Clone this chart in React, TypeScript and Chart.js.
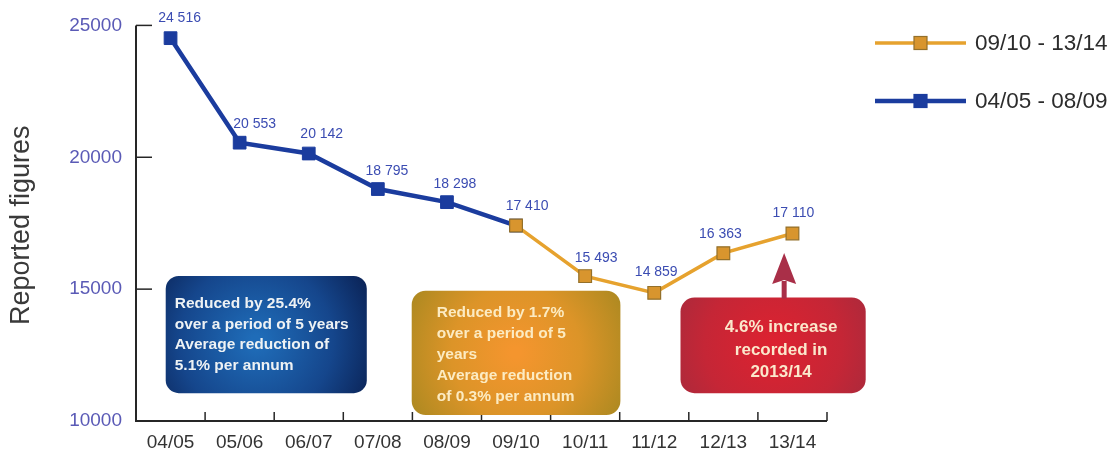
import React, { useEffect, useRef } from "react";
import { Chart, registerables } from "chart.js";

Chart.register(...registerables);

const categories = ["04/05", "05/06", "06/07", "07/08", "08/09", "09/10", "10/11", "11/12", "12/13", "13/14"];
const earlyValues = [24516, 20553, 20142, 18795, 18298, 17410, null, null, null, null];
const lateValues = [null, null, null, null, null, 17410, 15493, 14859, 16363, 17110];
const earlyLabel = "04/05 - 08/09";
const lateLabel = "09/10 - 13/14";
const yTickValues = [10000, 15000, 20000, 25000];
const yAxisTitle = "Reported figures";
const blueNote = ["Reduced by 25.4%", "over a period of 5 years", "Average reduction of", "5.1% per annum"];
const goldNote = ["Reduced by 1.7%", "over a period of 5", "years", "Average reduction", "of 0.3% per annum"];
const redNote = ["4.6% increase", "recorded in", "2013/14"];

const FONT = '"Liberation Sans", Arial, Helvetica, sans-serif';
const BLUE = "#1b3c9e";
const ORANGE = "#e6a22e";
const ORANGE_FILL = "#d8952e";
const ORANGE_EDGE = "#94702a";
const LABEL_DX = [9, 15, 13, 9, 8, 11, 11, 2, -3, 1];
const LABEL_DY = [-20, -19, -19, -18, -18, -19, -18, -21, -19, -20];

function fmt(v: number) {
  return String(v).replace(/\B(?=(\d{3})+(?!\d))/g, " ");
}

function box(ctx: CanvasRenderingContext2D, x: number, y: number, w: number, h: number, r: number) {
  ctx.beginPath();
  (ctx as any).roundRect(x, y, w, h, r);
}

const overlayPlugin = {
  id: "overlay",
  afterDatasetsDraw(chart: any) {
    const ctx: CanvasRenderingContext2D = chart.ctx;
    ctx.save();
    ctx.font = `14px ${FONT}`;
    ctx.fillStyle = "#3b4cb2";
    ctx.textAlign = "center";
    ctx.textBaseline = "middle";
    const done = new Set<number>();
    chart.data.datasets.forEach((ds: any, di: number) => {
      const meta = chart.getDatasetMeta(di);
      meta.data.forEach((pt: any, i: number) => {
        const v = ds.data[i];
        if (v == null || done.has(i)) return;
        done.add(i);
        ctx.fillText(fmt(v), pt.x + LABEL_DX[i], pt.y + LABEL_DY[i]);
      });
    });
    ctx.restore();
  },
  afterDraw(chart: any) {
    const ctx: CanvasRenderingContext2D = chart.ctx;
    const ca = chart.chartArea;
    const x = chart.scales.x;
    const y = chart.scales.y;
    ctx.save();

    // axes
    ctx.strokeStyle = "#262626";
    ctx.lineWidth = 2;
    ctx.beginPath();
    ctx.moveTo(ca.left, ca.top);
    ctx.lineTo(ca.left, ca.bottom);
    ctx.lineTo(ca.right, ca.bottom);
    ctx.stroke();
    ctx.lineWidth = 1.5;
    yTickValues.forEach((v) => {
      const py = y.getPixelForValue(v);
      ctx.beginPath();
      ctx.moveTo(ca.left, py);
      ctx.lineTo(ca.left + 16, py);
      ctx.stroke();
    });
    for (let i = 0; i < categories.length; i++) {
      const px = x.getPixelForValue(i + 0.5);
      ctx.beginPath();
      ctx.moveTo(px, ca.bottom);
      ctx.lineTo(px, ca.bottom - 9);
      ctx.stroke();
    }

    // y axis title
    ctx.save();
    ctx.translate(22, (ca.top + ca.bottom) / 2 + 2);
    ctx.rotate(-Math.PI / 2);
    ctx.font = `27px ${FONT}`;
    ctx.fillStyle = "#3a3a3a";
    ctx.textAlign = "center";
    ctx.textBaseline = "middle";
    ctx.fillText(yAxisTitle, 0, 0);
    ctx.restore();

    const rect = (i0: number, i1: number, v0: number, v1: number) => {
      const l = x.getPixelForValue(i0);
      const r = x.getPixelForValue(i1);
      const t = y.getPixelForValue(v0);
      const b = y.getPixelForValue(v1);
      return { l, t, w: r - l, h: b - t };
    };

    // blue note
    {
      const b = rect(-0.07, 2.84, 15500, 11055);
      const g = ctx.createRadialGradient(b.l + b.w * 0.45, b.t + b.h * 0.55, 5, b.l + b.w * 0.45, b.t + b.h * 0.55, b.w * 0.62);
      g.addColorStop(0, "#1f6cb8");
      g.addColorStop(0.6, "#15468c");
      g.addColorStop(1, "#0b2458");
      ctx.fillStyle = g;
      box(ctx, b.l, b.t, b.w, b.h, 13);
      ctx.fill();
      ctx.font = `bold 15.5px ${FONT}`;
      ctx.fillStyle = "#eef2f4";
      ctx.textAlign = "left";
      ctx.textBaseline = "middle";
      blueNote.forEach((s, k) => ctx.fillText(s, b.l + 9, b.t + 28 + k * 20.5));
    }

    // gold note
    {
      const b = rect(3.49, 6.51, 14940, 10226);
      const g = ctx.createRadialGradient(b.l + b.w * 0.5, b.t + b.h * 0.5, 5, b.l + b.w * 0.5, b.t + b.h * 0.5, b.w * 0.6);
      g.addColorStop(0, "#f4952e");
      g.addColorStop(0.5, "#dc9428");
      g.addColorStop(1, "#a88820");
      ctx.fillStyle = g;
      box(ctx, b.l, b.t, b.w, b.h, 14);
      ctx.fill();
      ctx.font = `bold 15.5px ${FONT}`;
      ctx.fillStyle = "#fcebc2";
      ctx.textAlign = "left";
      ctx.textBaseline = "middle";
      goldNote.forEach((s, k) => ctx.fillText(s, b.l + 25, b.t + 22 + k * 21));
    }

    // red note + arrow
    {
      const b = rect(7.38, 10.06, 14680, 11055);
      const g = ctx.createRadialGradient(b.l + b.w * 0.5, b.t + b.h * 0.5, 5, b.l + b.w * 0.5, b.t + b.h * 0.5, b.w * 0.6);
      g.addColorStop(0, "#dc2230");
      g.addColorStop(0.6, "#c52636");
      g.addColorStop(1, "#a82a3c");
      ctx.fillStyle = g;
      box(ctx, b.l, b.t, b.w, b.h, 14);
      ctx.fill();
      ctx.font = `bold 17px ${FONT}`;
      ctx.fillStyle = "#fbe8cc";
      ctx.textAlign = "center";
      ctx.textBaseline = "middle";
      const cx = b.l + b.w / 2 + 8;
      redNote.forEach((s, k) => ctx.fillText(s, cx, b.t + 30 + k * 22.5));

      const ax = x.getPixelForValue(8.88);
      const tip = y.getPixelForValue(16370);
      ctx.fillStyle = "#a92f48";
      ctx.fillRect(ax - 2.5, tip + 28, 5, b.t - tip - 27);
      ctx.beginPath();
      ctx.moveTo(ax, tip);
      ctx.lineTo(ax + 12, tip + 31);
      ctx.lineTo(ax, tip + 27);
      ctx.lineTo(ax - 12, tip + 31);
      ctx.closePath();
      ctx.fill();
    }

    // legend
    const entries = [
      { label: lateLabel, line: ORANGE, fill: ORANGE_FILL, edge: ORANGE_EDGE, width: 3.5, y: 43 },
      { label: earlyLabel, line: BLUE, fill: BLUE, edge: BLUE, width: 4.5, y: 101 },
    ];
    entries.forEach((e) => {
      ctx.strokeStyle = e.line;
      ctx.lineWidth = e.width;
      ctx.beginPath();
      ctx.moveTo(875, e.y);
      ctx.lineTo(966, e.y);
      ctx.stroke();
      ctx.fillStyle = e.fill;
      ctx.fillRect(914, e.y - 6.5, 13, 13);
      ctx.strokeStyle = e.edge;
      ctx.lineWidth = 1.2;
      ctx.strokeRect(914, e.y - 6.5, 13, 13);
      ctx.font = `22.5px ${FONT}`;
      ctx.fillStyle = "#2c2c2c";
      ctx.textAlign = "left";
      ctx.textBaseline = "middle";
      ctx.fillText(e.label, 975, e.y + 1);
    });

    ctx.restore();
  },
};

export default function App() {
  const ref = useRef<HTMLCanvasElement | null>(null);
  useEffect(() => {
    if (!ref.current) return;
    const chart = new Chart(ref.current, {
      type: "line",
      data: {
        labels: categories,
        datasets: [
          {
            label: lateLabel,
            data: lateValues,
            borderColor: ORANGE,
            borderWidth: 3.5,
            pointStyle: "rect",
            pointRadius: 9,
            pointBackgroundColor: ORANGE_FILL,
            pointBorderColor: ORANGE_EDGE,
            pointBorderWidth: 1.2,
            tension: 0,
            spanGaps: false,
          },
          {
            label: earlyLabel,
            data: earlyValues,
            borderColor: BLUE,
            borderWidth: 4.5,
            pointStyle: "rect",
            pointRadius: 9,
            pointBackgroundColor: BLUE,
            pointBorderColor: BLUE,
            pointBorderWidth: 1,
            tension: 0,
            spanGaps: false,
          },
        ],
      },
      options: {
        responsive: false,
        animation: false,
        layout: { padding: { left: 0, right: 282, top: 23, bottom: 0 } },
        plugins: { legend: { display: false }, tooltip: { enabled: false } },
        scales: {
          x: {
            type: "category",
            offset: true,
            grid: { display: false, drawTicks: false, offset: true },
            border: { display: false },
            ticks: { font: { family: FONT, size: 19 }, color: "#333333", padding: 10, maxRotation: 0, autoSkip: false },
            afterFit: (s: any) => {
              s.height = 33;
            },
          },
          y: {
            min: 10000,
            max: 25000,
            grid: { display: false, drawTicks: false },
            border: { display: false },
            ticks: {
              stepSize: 5000,
              font: { family: FONT, size: 19 },
              color: "#5a5ab6",
              padding: 14,
              callback: (v: any) => String(v),
            },
            afterFit: (s: any) => {
              s.width = 136;
            },
          },
        },
      },
      plugins: [overlayPlugin],
    } as any);
    return () => chart.destroy();
  }, []);
  return (
    <div style={{ position: "fixed", left: 0, top: 0, width: 1109, height: 454, background: "#ffffff" }}>
      <canvas ref={ref} width={1109} height={454} style={{ display: "block" }} />
    </div>
  );
}
